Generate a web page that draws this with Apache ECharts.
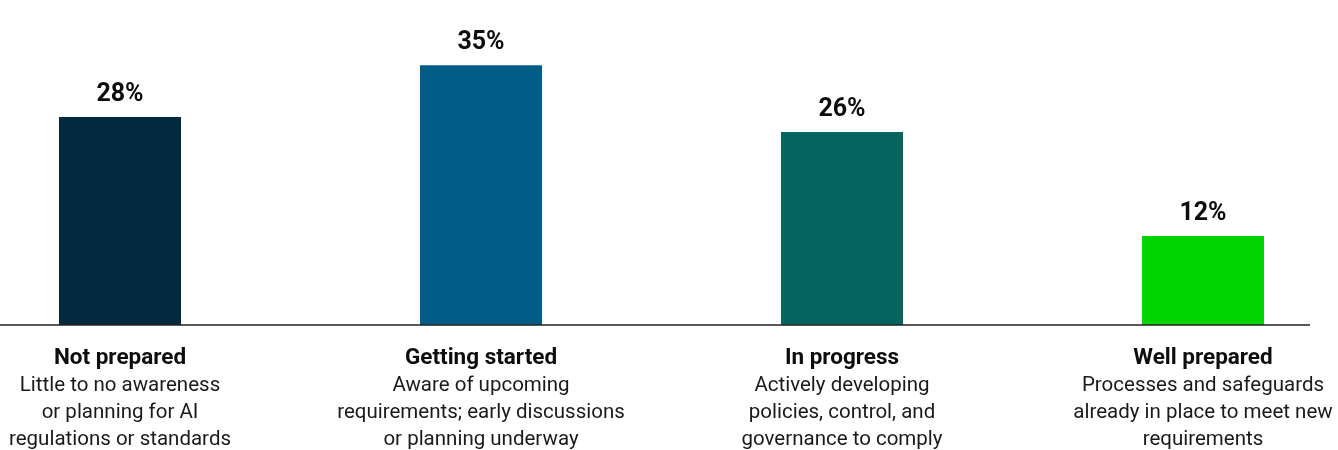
<!DOCTYPE html>
<html>
<head>
<meta charset="utf-8">
<script src="https://cdn.jsdelivr.net/npm/echarts@6/dist/echarts.min.js"></script>
<style>
  html, body { margin: 0; padding: 0; background: #ffffff; }
  #chart { width: 1338px; height: 450px; }
</style>
</head>
<body>
<div id="chart"></div>
<script>
// Readiness stages, their short descriptions and share of respondents (%)
const stages = ['Not prepared', 'Getting started', 'In progress', 'Well prepared'];
const descriptions = [
  'Little to no awareness\nor planning for AI\nregulations or standards',
  'Aware of upcoming\nrequirements; early discussions\nor planning underway',
  'Actively developing\npolicies, control, and\ngovernance to comply',
  'Processes and safeguards\nalready in place to meet new\nrequirements'
];
const shares = [28, 35, 26, 12];
const barColors = ['#03293f', '#015c87', '#04645f', '#00d400'];

const chart = echarts.init(document.getElementById('chart'), null, { renderer: 'canvas' });
const FONT = 'Roboto, "Noto Sans", sans-serif';

const option = {
  animation: false,
  grid: {
    left: -60.5, right: -45.5, top: 28, bottom: 125,
    containLabel: false,
    outerBoundsMode: 'none'
  },
  xAxis: {
    type: 'category',
    data: stages,
    axisLine: { show: false },
    axisTick: { show: false },
    axisLabel: {
      interval: 0,
      margin: 20,
      formatter: function (value, idx) {
        const lines = descriptions[idx].split('\n').map(l => '{d|' + l + '}');
        return '{t|' + value + '}\n' + lines.join('\n');
      },
      rich: {
        t: { fontFamily: FONT, fontWeight: 'bold', fontSize: 22.5, color: '#0d0d0d', lineHeight: 27, align: 'center' },
        d: { fontFamily: FONT, fontSize: 20.5, color: '#1a1a1a', lineHeight: 27, align: 'center' }
      }
    }
  },
  yAxis: {
    type: 'value',
    min: 0,
    max: 40,
    show: false,
    splitLine: { show: false }
  },
  series: [{
    type: 'bar',
    barWidth: 122,
    data: shares.map((v, i) => ({ value: v, itemStyle: { color: barColors[i] } })),
    label: {
      show: true,
      position: 'top',
      distance: 10,
      formatter: '{c}%',
      fontFamily: FONT,
      fontWeight: 'bold',
      fontSize: 25,
      color: '#0d0d0d'
    }
  }]
};

chart.setOption(option);

// Baseline under the bars, spanning the plotted width
const baseY = chart.convertToPixel({ yAxisIndex: 0 }, 0);
chart.setOption({
  graphic: [{
    type: 'line',
    shape: { x1: 0, y1: baseY, x2: 1310, y2: baseY },
    style: { stroke: '#222', lineWidth: 1.5 },
    z: 10
  }]
});
</script>
</body>
</html>
